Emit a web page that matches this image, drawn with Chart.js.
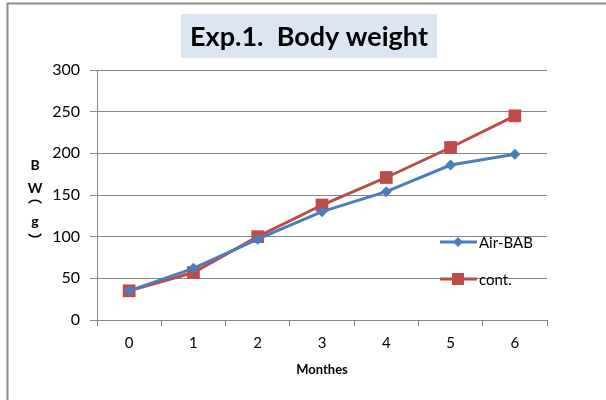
<!DOCTYPE html>
<html>
<head>
<meta charset="utf-8">
<script src="https://cdn.jsdelivr.net/npm/chart.js@4/dist/chart.umd.min.js"></script>
<style>
  html, body { margin: 0; padding: 0; background: #fff; }
  #wrap { position: relative; width: 606px; height: 400px; }
</style>
</head>
<body>
<div id="wrap"><canvas id="bwChart" width="606" height="400"></canvas></div>
<script>
const months = ['0', '1', '2', '3', '4', '5', '6'];
const airBab = [35, 62, 97, 130, 154, 186, 199];
const cont = [35, 57, 100, 138, 171, 207, 245];
const yTicks = [0, 50, 100, 150, 200, 250, 300];
const yTitle = ['B', 'W', '\uFE35', 'g', '\uFE36'];

const FONT = 'Lato, Carlito, Calibri, sans-serif';
const GRID = '#868686';

// frame, title box, stacked y label and legend drawn on top of the chart
const decorations = {
    id: 'decorations',
    beforeDraw(chart) {
        const ctx = chart.ctx;
        ctx.save();
        ctx.fillStyle = '#fff';
        ctx.fillRect(0, 0, chart.width, chart.height);
        ctx.strokeStyle = '#8c8c8c';
        ctx.lineWidth = 2;
        ctx.beginPath();
        ctx.moveTo(7.5, chart.height);
        ctx.lineTo(7.5, 3.5);
        ctx.lineTo(chart.width, 3.5);
        ctx.stroke();

        // title
        ctx.fillStyle = '#dce6f2';
        ctx.fillRect(181, 14, 256, 44);
        ctx.fillStyle = '#000';
        ctx.font = 'bold 27px ' + FONT;
        ctx.textAlign = 'center';
        ctx.textBaseline = 'middle';
        ctx.fillText('Exp.1.  Body weight', 309, 37);
        ctx.restore();
    },
    afterDraw(chart) {
        const ctx = chart.ctx;
        ctx.save();
        // y axis title, letters stacked
        ctx.fillStyle = '#000';
        ctx.textAlign = 'center';
        ctx.textBaseline = 'middle';
        const ys = [165, 188, 197, 221, 240];
        yTitle.forEach((ch, i) => {
            ctx.font = 'bold 14px ' + FONT + ', "Noto Sans CJK SC"';
            ctx.fillText(ch, 35, ys[i]);
        });

        // legend
        const items = [
            { label: 'Air-BAB', ds: chart.data.datasets[0], y: 242 },
            { label: 'cont.', ds: chart.data.datasets[1], y: 279 }
        ];
        items.forEach(it => {
            ctx.strokeStyle = it.ds.borderColor;
            ctx.lineWidth = 3;
            ctx.beginPath();
            ctx.moveTo(440, it.y);
            ctx.lineTo(477, it.y);
            ctx.stroke();
            ctx.fillStyle = it.ds.borderColor;
            if (it.ds.pointStyle === 'rectRot') {
                const r = 5;
                ctx.beginPath();
                ctx.moveTo(458 - r, it.y);
                ctx.lineTo(458, it.y - r);
                ctx.lineTo(458 + r, it.y);
                ctx.lineTo(458, it.y + r);
                ctx.closePath();
                ctx.fill();
            } else {
                ctx.fillRect(452, it.y - 6, 12, 12);
            }
            ctx.fillStyle = '#000';
            ctx.font = '15px ' + FONT;
            ctx.textAlign = 'left';
            ctx.fillText(it.label, 479, it.y + 1);
        });
        ctx.restore();
    }
};

const ctx = document.getElementById('bwChart').getContext('2d');
const chart = new Chart(ctx, {
    type: 'line',
    data: {
        labels: months,
        datasets: [{
            label: 'Air-BAB',
            data: airBab,
            borderColor: '#4a7ebb',
            backgroundColor: '#4a7ebb',
            borderWidth: 3,
            pointStyle: 'rectRot',
            pointRadius: 5.5,
            pointBorderWidth: 0,
            tension: 0
        }, {
            label: 'cont.',
            data: cont,
            borderColor: '#be4b48',
            backgroundColor: '#be4b48',
            borderWidth: 3,
            pointStyle: 'rect',
            pointRadius: 9,
            pointBorderWidth: 0,
            tension: 0
        }]
    },
    options: {
        responsive: false,
        animation: false,
        layout: {
            padding: { left: 0, right: 59, top: 70, bottom: 0 }
        },
        plugins: {
            legend: { display: false },
            tooltip: { enabled: false }
        },
        scales: {
            x: {
                offset: true,
                grid: {
                    offset: true,
                    drawOnChartArea: false,
                    drawTicks: true,
                    tickLength: 6,
                    color: GRID
                },
                border: { color: GRID, width: 1 },
                ticks: {
                    color: '#000',
                    font: { family: FONT, size: 15 },
                    padding: 8
                },
                title: {
                    display: true,
                    text: 'Monthes',
                    color: '#000',
                    font: { family: FONT, size: 13, weight: 'bold' },
                    padding: { top: 4, bottom: 22 }
                },
                afterFit(scale) { scale.height = 80; }
            },
            y: {
                min: 0,
                max: 300,
                afterBuildTicks(scale) {
                    scale.ticks = yTicks.map(v => ({ value: v }));
                },
                grid: {
                    color: GRID,
                    tickLength: 7
                },
                border: { color: GRID, width: 1 },
                ticks: {
                    color: '#000',
                    font: { family: FONT, size: 16 },
                    padding: 10
                },
                afterFit(scale) { scale.width = 97; }
            }
        }
    },
    plugins: [decorations]
});
</script>
</body>
</html>
